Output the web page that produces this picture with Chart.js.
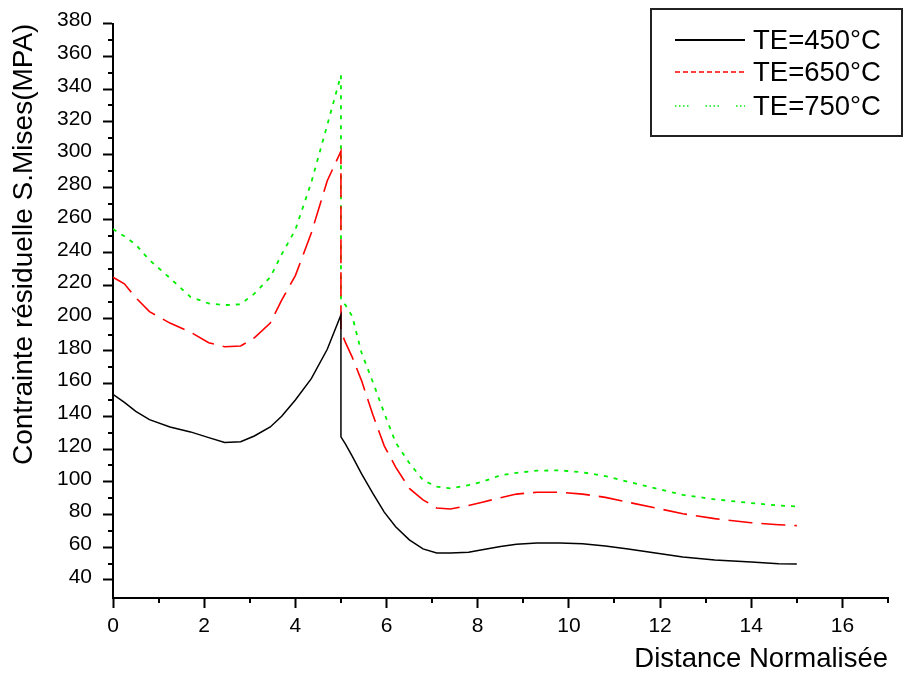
<!DOCTYPE html>
<html>
<head>
<meta charset="utf-8">
<script src="https://cdn.jsdelivr.net/npm/chart.js@4.4.1/dist/chart.umd.min.js"></script>
<style>
  html, body { margin: 0; padding: 0; background: #fff; }
  #wrap { width: 905px; height: 677px; }
</style>
</head>
<body>
<div id="wrap"><canvas id="myChart" width="905" height="677"></canvas></div>
<script>
// distance normalisee (les deux points a 5 donnent le saut vertical)
const distance = [0, 0.25, 0.5, 0.8, 1.25, 1.7, 2.1, 2.45, 2.8, 3.1, 3.45, 3.7, 4.0, 4.35, 4.7, 5.0,
  5.0, 5.1, 5.25, 5.45, 5.7, 5.95, 6.2, 6.5, 6.8, 7.1, 7.4, 7.8, 8.1, 8.5, 8.85, 9.3, 9.8,
  10.3, 10.8, 11.3, 11.9, 12.5, 13.2, 14.0, 14.6, 15.0];

// contrainte residuelle (MPA) pour chaque temperature
const te450 = [153.5, 148.5, 143, 138, 133.5, 130.5, 127, 124, 124.5, 128, 133.5, 140, 150, 163, 181, 202,
  127.5, 123, 115.5, 105, 93, 81.5, 72.5, 64.5, 59, 56.5, 56.5, 57, 58.5, 60.5, 61.8, 62.6, 62.6,
  62.2, 60.8, 59, 56.5, 54, 52.2, 51, 50, 49.8];
const te650 = [225, 221, 212.5, 204, 197, 191.5, 185, 182.5, 183, 188, 197, 211, 226, 252, 284, 302,
  192, 185, 176, 162, 141, 122, 109, 96, 89, 84, 83.4, 85.5, 87.5, 90.3, 92.5, 93.6, 93.6,
  92.5, 90.5, 87.5, 84, 80.5, 77.5, 75, 73.8, 73.2];
const te750 = [254.5, 250, 245, 235.5, 224.5, 213, 209, 208, 208.5, 215, 225, 239, 254, 283, 318, 348.5,
  211, 208, 201, 179, 161, 142, 124, 111.5, 101, 97, 96, 98, 100, 104, 105.5, 106.8, 107,
  105.8, 103.5, 100, 96, 92, 89.3, 87, 85.5, 85];

const seriesLabels = ['TE=450°C', 'TE=650°C', 'TE=750°C'];
const xTicks = [0, 2, 4, 6, 8, 10, 12, 14, 16];
const yTicks = [40, 60, 80, 100, 120, 140, 160, 180, 200, 220, 240, 260, 280, 300, 320, 340, 360, 380];

const FONT = "'Liberation Sans', Arial, sans-serif";

function points(ys) {
  return distance.map((d, i) => ({ x: d, y: ys[i] }));
}

// petites graduations intermediaires sur les deux axes
const minorTicks = {
  id: 'minorTicks',
  afterDraw(chart) {
    const ctx = chart.ctx;
    const xs = chart.scales.x, ys = chart.scales.y;
    const area = chart.chartArea;
    ctx.save();
    ctx.strokeStyle = '#000';
    ctx.lineWidth = 2;
    ctx.beginPath();
    for (let v = 1; v <= 17; v += 2) {
      const px = Math.round(xs.getPixelForValue(v));
      ctx.moveTo(px, area.bottom);
      ctx.lineTo(px, area.bottom + 5);
    }
    for (let v = 50; v <= 370; v += 20) {
      const py = Math.round(ys.getPixelForValue(v));
      ctx.moveTo(area.left, py);
      ctx.lineTo(area.left - 5, py);
    }
    ctx.stroke();
    ctx.restore();
  }
};

// legende encadree en haut a droite
const boxLegend = {
  id: 'boxLegend',
  afterDraw(chart) {
    const ctx = chart.ctx;
    const rows = [40, 72, 106];
    const sampleDash = [[], [5, 3], [1.5, 2.5, 1.5, 2.5, 1.5, 2.5, 1.5, 17]];
    ctx.save();
    ctx.strokeStyle = '#222';
    ctx.lineWidth = 2;
    ctx.strokeRect(651, 9, 251, 127);
    chart.data.datasets.forEach((ds, i) => {
      ctx.beginPath();
      ctx.setLineDash(sampleDash[i]);
      ctx.strokeStyle = ds.borderColor;
      ctx.lineWidth = i === 0 ? 2 : 1.6;
      ctx.moveTo(675, rows[i]);
      ctx.lineTo(745, rows[i]);
      ctx.stroke();
      ctx.setLineDash([]);
      ctx.fillStyle = '#000';
      ctx.font = '27.5px ' + FONT;
      ctx.textBaseline = 'middle';
      ctx.textAlign = 'left';
      ctx.fillText(ds.label, 753, rows[i] + 1);
    });
    ctx.restore();
  }
};

const data = {
  datasets: [{
    label: seriesLabels[0],
    data: points(te450),
    borderColor: '#000000',
    borderWidth: 1.5
  },
  {
    label: seriesLabels[1],
    data: points(te650),
    borderColor: '#ff0000',
    borderWidth: 1.6,
    borderDash: [24, 9]
  },
  {
    label: seriesLabels[2],
    data: points(te750),
    borderColor: '#00ee00',
    borderWidth: 1.8,
    borderDash: [4, 6]
  }]
};

const config = {
  type: 'line',
  data: data,
  options: {
    responsive: false,
    animation: false,
    layout: {
      padding: { top: 23, right: 17, bottom: 0, left: 0 }
    },
    elements: {
      point: { radius: 0 },
      line: { tension: 0, fill: false }
    },
    plugins: {
      legend: { display: false },
      tooltip: { enabled: false }
    },
    scales: {
      x: {
        type: 'linear',
        min: 0,
        max: 17,
        afterBuildTicks: s => { s.ticks = xTicks.map(v => ({ value: v })); },
        afterFit: s => { s.height = 79; },
        border: { display: true, color: '#000', width: 2 },
        grid: { display: true, drawOnChartArea: false, drawTicks: true, tickLength: 10, tickWidth: 2, tickColor: '#000' },
        ticks: { color: '#000', padding: 6, font: { family: FONT, size: 21 }, maxRotation: 0 },
        title: {
          display: true,
          text: 'Distance Normalisée',
          align: 'end',
          color: '#000',
          font: { family: FONT, size: 27.5 },
          padding: { top: 0, bottom: 1 }
        }
      },
      y: {
        type: 'linear',
        min: 29,
        max: 380,
        afterBuildTicks: s => { s.ticks = yTicks.map(v => ({ value: v })); },
        afterFit: s => { s.width = 113; },
        border: { display: true, color: '#000', width: 2 },
        grid: { display: true, drawOnChartArea: false, drawTicks: true, tickLength: 10, tickWidth: 2, tickColor: '#000' },
        ticks: { color: '#000', padding: 11, labelOffset: -3, font: { family: FONT, size: 21 } },
        title: {
          display: true,
          text: 'Contrainte résiduelle S.Mises(MPA)',
          align: 'end',
          color: '#000',
          font: { family: FONT, size: 28 },
          padding: { top: 7, bottom: 0 }
        }
      }
    }
  },
  plugins: [minorTicks, boxLegend]
};

const myChart = new Chart(document.getElementById('myChart'), config);
</script>
</body>
</html>
